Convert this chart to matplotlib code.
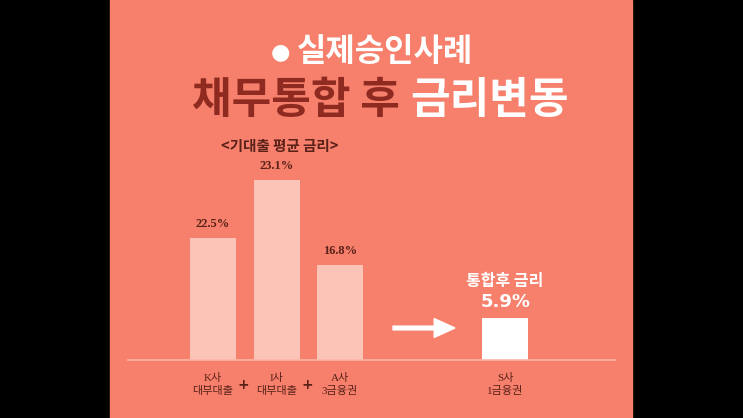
import matplotlib.pyplot as plt
from matplotlib.patches import Rectangle, FancyArrow

# data
companies = ["K사\n대부대출", "I사\n대부대출", "A사\n3금융권", "S사\n1금융권"]
rates = [22.5, 23.1, 16.8, 5.9]
rate_labels = ["22.5%", "23.1%", "16.8%", "5.9%"]
# drawn bar heights (the picture is not to scale)
bar_heights = [122, 180, 95, 42]

bg = "#F6806C"
bar_col = "#FCC3B7"
dark = "#5A2119"
title_red = "#8E2A20"
kfont = "Noto Sans CJK KR"
mixed = ["Liberation Serif", "Noto Sans CJK KR"]

fig = plt.figure(figsize=(7.43, 4.18), dpi=100, facecolor="black")
W, H = 743, 418

def fx(px):
    return px / W

def fy(py):
    return 1 - py / H

fig.patches.append(Rectangle((fx(110), 0), fx(632) - fx(110), 1,
                             transform=fig.transFigure, color=bg, zorder=-5))

# bar axes: pixel box 128..615 x, 130..360 y
ax = fig.add_axes([fx(128), fy(360), fx(615) - fx(128), (360 - 130) / H])
ax.set_facecolor("none")
xs = [0, 1, 2, 4.6]
cols = [bar_col, bar_col, bar_col, "white"]
ax.bar(xs, bar_heights, width=0.724, color=cols, zorder=2)
ax.set_xlim(-1.34, 6.33)
ax.set_ylim(0, 230)
for s in ["top", "left", "right"]:
    ax.spines[s].set_visible(False)
ax.spines["bottom"].set_color("#FBB5A6")
ax.spines["bottom"].set_linewidth(1.2)
ax.set_yticks([])
ax.set_xticks(xs)
ax.set_xticklabels(companies, family=mixed, fontsize=8, color=dark, linespacing=1.4)
ax.tick_params(axis="x", length=0, pad=9)

for x, h, lab in zip(xs[:3], bar_heights[:3], rate_labels[:3]):
    ax.text(x, h + 8, lab, ha="center", va="bottom", family="Liberation Serif",
            fontweight="bold", fontsize=9, color=dark)

# plus signs between first three companies
for xp in [0.47, 1.48]:
    ax.text(xp, -25, "+", ha="center", va="center", fontsize=10,
            fontweight="bold", color=dark, clip_on=False)

# after-consolidation labels
ax.text(xs[3], bar_heights[3] + 29, "통합후 금리", ha="center", va="bottom",
        family=kfont, fontweight="bold", fontsize=11.5, color="white")
ax.text(xs[3], bar_heights[3] + 7, rate_labels[3], ha="center", va="bottom",
        family="DejaVu Sans", fontweight="bold", fontsize=13, color="white")

# arrow
fig.patches.append(FancyArrow(fx(393), fy(328), fx(455) - fx(393), 0,
                              width=0.009, head_width=0.045, head_length=0.028,
                              length_includes_head=True, color="white",
                              transform=fig.transFigure, zorder=3))

# titles
fig.text(fx(290), fy(52), "●", ha="right", va="center",
         family="DejaVu Sans", fontsize=16, color="white")
fig.text(fx(297), fy(52), "실제승인사례", ha="left", va="center",
         family=kfont, fontweight="bold", fontsize=23, color="white")
fig.text(fx(400), fy(100), "채무통합 후", ha="right", va="center",
         family=kfont, fontweight="bold", fontsize=31, color=title_red)
fig.text(fx(410), fy(100), "금리변동", ha="left", va="center",
         family=kfont, fontweight="bold", fontsize=31, color="white")
fig.text(fx(280), fy(146), "<기대출 평균 금리>", ha="center", va="center",
         family=kfont, fontweight="bold", fontsize=10.5, color=dark)

fig.savefig("out.png", dpi=100, facecolor="black")
